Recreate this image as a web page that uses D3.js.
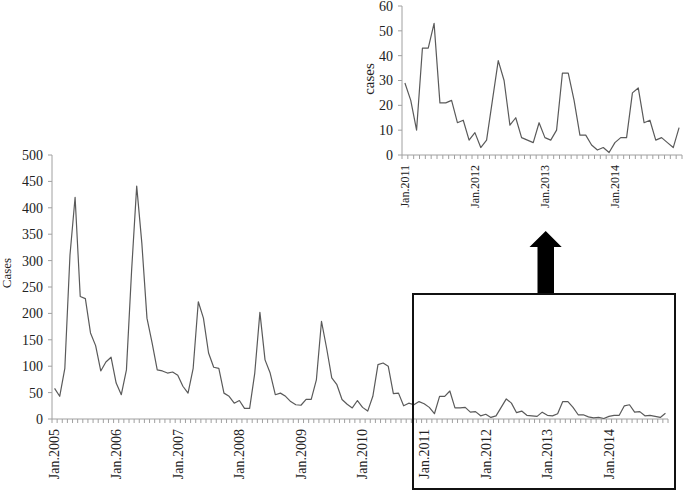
<!DOCTYPE html>
<html>
<head>
<meta charset="utf-8">
<script src="https://cdnjs.cloudflare.com/ajax/libs/d3/7.8.5/d3.min.js"></script>
<style>
  body { margin: 0; background: #fff; }
  svg { display: block; font-family: "Liberation Serif", "Times New Roman", serif; }
</style>
</head>
<body>
<div id="chart"></div>
<script>
/* DATA */
// monthly cases Jan.2005 - Dec.2010
const cases0510 = [
  58, 43, 96, 310, 420, 232, 228, 163, 139, 91, 108, 117,
  68, 46, 93, 280, 441, 333, 191, 144, 93, 91, 87, 89,
  83, 62, 49, 96, 222, 191, 125, 98, 96, 49, 43, 30,
  35, 20, 20, 87, 202, 112, 87, 46, 49, 43, 33, 27,
  26, 37, 37, 74, 185, 134, 78, 65, 37, 28, 21, 35,
  22, 15, 43, 103, 106, 100, 48, 49, 25, 30, 27, 33
]
// monthly cases Jan.2011 - Dec.2014
const cases1114 = [
  29, 22, 10, 43, 43, 53, 21, 21, 22, 13, 14, 6,
  9, 3, 6, 22, 38, 30, 12, 15, 7, 6, 5, 13,
  7, 6, 10, 33, 33, 22, 8, 8, 4, 2, 3, 1,
  5, 7, 7, 25, 27, 13, 14, 6, 7, 5, 3, 11
]
const mainYears = ["Jan.2005", "Jan.2006", "Jan.2007", "Jan.2008", "Jan.2009",
                   "Jan.2010", "Jan.2011", "Jan.2012", "Jan.2013", "Jan.2014"]
const insetYears = ["Jan.2011", "Jan.2012", "Jan.2013", "Jan.2014"]
const mainYTicks = [0, 50, 100, 150, 200, 250, 300, 350, 400, 450, 500]
const insetYTicks = [0, 10, 20, 30, 40, 50, 60]

const allCases = cases0510.concat(cases1114)

const lineColor = "#5a5a5a"
const axisColor = "#a0a0a0"
const textColor = "#222"

const svg = d3.select("#chart").append("svg")
  .attr("width", 685)
  .attr("height", 491)

// draws one month-category line chart with its axes
function drawPanel(opts) {
  const g = svg.append("g")
  const n = opts.values.length

  const x = d3.scaleBand()
    .domain(d3.range(n))
    .range([opts.left, opts.right])
    .padding(0)
  const y = d3.scaleLinear()
    .domain([0, opts.yMax])
    .range([opts.bottom, opts.top])

  // y axis line + ticks
  g.append("line")
    .attr("x1", opts.left).attr("x2", opts.left)
    .attr("y1", y(0)).attr("y2", y(opts.yMax))
    .attr("stroke", axisColor)
  g.selectAll(".ytick")
    .data(opts.yTicks)
    .enter()
    .append("line")
    .attr("x1", opts.left - 4).attr("x2", opts.left)
    .attr("y1", d => y(d)).attr("y2", d => y(d))
    .attr("stroke", axisColor)
  g.selectAll(".ylab")
    .data(opts.yTicks)
    .enter()
    .append("text")
    .attr("x", opts.left - 9)
    .attr("y", d => y(d))
    .attr("dy", "0.35em")
    .attr("text-anchor", "end")
    .attr("font-size", opts.yFont)
    .attr("fill", textColor)
    .text(d => d)

  // x axis line + monthly ticks at category boundaries
  g.append("line")
    .attr("x1", opts.left).attr("x2", opts.right)
    .attr("y1", y(0)).attr("y2", y(0))
    .attr("stroke", axisColor)
  g.selectAll(".xtick")
    .data(d3.range(n + 1))
    .enter()
    .append("line")
    .attr("x1", d => opts.left + d * x.bandwidth())
    .attr("x2", d => opts.left + d * x.bandwidth())
    .attr("y1", y(0)).attr("y2", y(0) + 4)
    .attr("stroke", axisColor)

  // year labels, one every 12 months
  g.selectAll(".xlab")
    .data(opts.years)
    .enter()
    .append("text")
    .attr("transform", (d, i) => `translate(${x(i * 12) + x.bandwidth() / 2},${y(0) + opts.labelGap}) rotate(-90)`)
    .attr("dy", "0.35em")
    .attr("text-anchor", "end")
    .attr("font-size", opts.xFont)
    .attr("fill", textColor)
    .text(d => d)

  // y title
  g.append("text")
    .attr("transform", `translate(${opts.titleX},${opts.titleY}) rotate(-90)`)
    .attr("dy", "0.35em")
    .attr("text-anchor", "middle")
    .attr("font-size", opts.titleFont)
    .attr("fill", textColor)
    .text(opts.title)

  // the series
  const line = d3.line()
    .x((d, i) => x(i) + x.bandwidth() / 2)
    .y(d => y(d))
  g.append("path")
    .datum(opts.values)
    .attr("d", line)
    .attr("fill", "none")
    .attr("stroke", lineColor)
    .attr("stroke-width", 1.2)
    .attr("stroke-linejoin", "round")
}

// main chart 2005-2014
drawPanel({
  values: allCases, years: mainYears, yTicks: mainYTicks, yMax: 500,
  left: 52, right: 668, top: 155, bottom: 419,
  yFont: 14, xFont: 14, labelGap: 10,
  title: "Cases", titleX: 6, titleY: 273, titleFont: 13
})

// inset 2011-2014
drawPanel({
  values: cases1114, years: insetYears, yTicks: insetYTicks, yMax: 60,
  left: 402, right: 682, top: 6, bottom: 155,
  yFont: 14, xFont: 12, labelGap: 10,
  title: "cases", titleX: 369, titleY: 79, titleFont: 15
})

// zoom box round 2011-2014 and the arrow up to the inset
svg.append("rect")
  .attr("x", 413).attr("y", 294)
  .attr("width", 262).attr("height", 195)
  .attr("fill", "none")
  .attr("stroke", "#111")
  .attr("stroke-width", 2)

svg.append("path")
  .attr("d", "M537.5,293 L537.5,247 L529.5,247 L545.7,231 L561.7,247 L554,247 L554,293 Z")
  .attr("fill", "#000")
</script>
</body>
</html>
